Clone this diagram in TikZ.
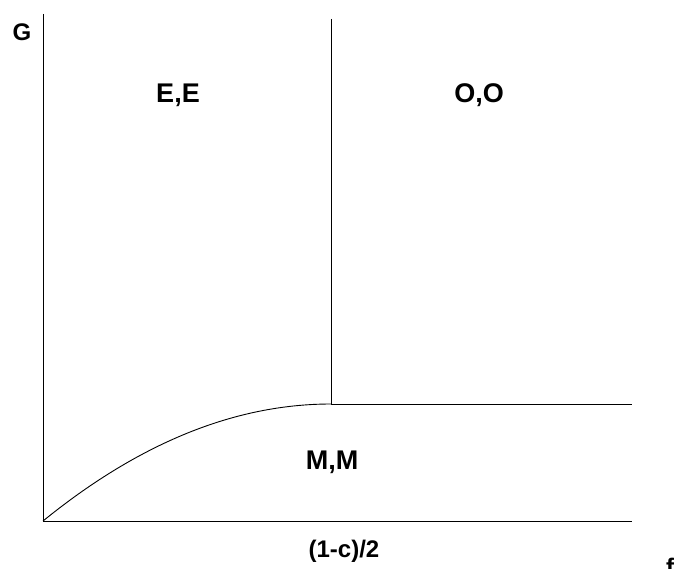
\documentclass[tikz,border=0pt]{standalone}
\usepackage{fontspec}
\setmainfont{Liberation Sans}
\usetikzlibrary{positioning}
\tikzset{
  axisline/.style   = {line width=1pt, black},
  borderline/.style = {line width=0.9pt, black},
  phaselabel/.style = {font=\fontsize{27}{31}\selectfont\bfseries,
                       inner sep=0pt},
  axislabel/.style  = {font=\fontsize{24}{28}\selectfont\bfseries,
                       inner sep=0pt},
}

\begin{document}
\begin{tikzpicture}[x=1pt, y=-1pt]
  \useasboundingbox (0,0) rectangle (674,569);
  % axes
  \coordinate (origin) at (43,521);
  \coordinate (gtop)   at (43,14);
  \coordinate (xend)   at (632,521);
  \draw[axisline] (gtop) -- (origin) -- (xend);
  % phase borders
  \coordinate (triple) at (331,404);
  \coordinate (divtop) at (331,19);
  \coordinate (mmend)  at (632,404);
  \draw[borderline] (divtop) -- (triple) -- (mmend);
  \draw[borderline] (origin) .. controls (139,443) and (235,404) .. (triple);
  % labels
  \node[axislabel] (glabel) at (22,32) {G};
  \node[phaselabel] (ee) at (178,95) {E,E};
  \node[phaselabel] (oo) at (479,95) {O,O};
  \node[phaselabel] (mm) at (332,462) {M,M};
  \node[axislabel] (xlabel) at (344,551) {(1-c)/2};
  \node[axislabel, anchor=base west] (flabel) at (666,575) {f};
\end{tikzpicture}
\end{document}
